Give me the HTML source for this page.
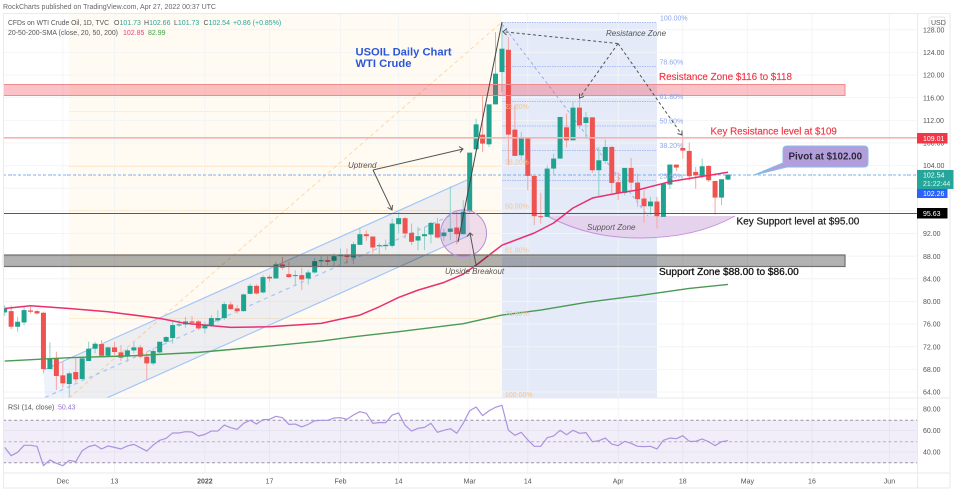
<!DOCTYPE html>
<html lang="en">
<head>
<meta charset="utf-8">
<title>USOIL Daily Chart</title>
<style>
html,body{margin:0;padding:0;background:#fff;width:960px;height:491px;overflow:hidden}
svg{display:block;filter:blur(0.3px)}
text{font-family:"Liberation Sans",sans-serif}
</style>
</head>
<body>
<svg id="chart" xmlns="http://www.w3.org/2000/svg" width="960" height="491" viewBox="0 0 960 491">
  <defs>
    <clipPath id="main-clip"><rect x="3" y="13" width="914" height="385"/></clipPath>
  </defs>
  <rect x="0" y="0" width="960" height="491" fill="#ffffff"/>
  <text x="3" y="9" font-size="7" fill="#666" textLength="213" lengthAdjust="spacingAndGlyphs">RockCharts published on TradingView.com, Apr 27, 2022 00:37 UTC</text>

  <g>
    <rect x="69" y="13" width="433" height="385" fill="#fffbf3"/>
    <rect x="502" y="22.5" width="155" height="375.5" fill="#e4eaf8"/>
  </g>
  <g id="grid"></g>

  <g stroke="#fde3bf" stroke-width="1" stroke-dasharray="1.5 1">
    <line x1="69" x2="502" y1="111.5" y2="111.5"/>
    <line x1="69" x2="502" y1="166.5" y2="166.5"/>
    <line x1="69" x2="502" y1="210.5" y2="210.5"/>
    <line x1="69" x2="502" y1="254.5" y2="254.5"/>
    <line x1="69" x2="502" y1="318.5" y2="318.5"/>
  </g>
  <line x1="69" y1="398" x2="502" y2="22" stroke="#fdd9a8" stroke-width="1" stroke-dasharray="4 3"/>
  <g stroke="#a9bcf0" stroke-width="1" stroke-dasharray="1.5 1">
    <line x1="502" x2="657" y1="22.5" y2="22.5"/>
    <line x1="502" x2="657" y1="66.5" y2="66.5"/>
    <line x1="502" x2="657" y1="101.5" y2="101.5"/>
    <line x1="502" x2="657" y1="126" y2="126"/>
    <line x1="502" x2="657" y1="150.5" y2="150.5"/>
    <line x1="502" x2="657" y1="180.5" y2="180.5"/>
  </g>
  <line x1="502" y1="24" x2="657" y2="228" stroke="#97aeea" stroke-width="1" stroke-dasharray="3 3"/>

  <g clip-path="url(#main-clip)">
    <polygon points="43.5,370 467,180 470,235 46.5,425" fill="#3f6fd8" fill-opacity="0.09"/>
    <line x1="43.5" y1="370" x2="467" y2="180" stroke="#a3c6f7" stroke-width="1.2"/>
    <line x1="46.5" y1="425" x2="470" y2="235" stroke="#a3c6f7" stroke-width="1.2"/>
    <line x1="45" y1="397.5" x2="468.5" y2="207.5" stroke="#a3c6f7" stroke-width="1.2" stroke-dasharray="4 4"/>
  </g>

  <line x1="3" x2="917" y1="175" y2="175" stroke="#7fb3ec" stroke-width="1" stroke-dasharray="3 2"/>
  <line x1="3" x2="917" y1="175" y2="175" stroke="#4db6ac" stroke-width="1" stroke-dasharray="1 7"/>

  <path d="M547,216 C580,233 610,238 640,238 C680,238 710,230 735,216 Z" fill="#e5d3ee"/>
  <path d="M547,216 C580,233 610,238 640,238 C680,238 710,230 735,216" fill="none" stroke="#c792dc" stroke-width="1"/>

  <g id="candles" clip-path="url(#main-clip)"></g>
  <g id="moving-averages"></g>

  <rect x="3.5" y="84.5" width="841.5" height="11" fill="#f23645" fill-opacity="0.3" stroke="#f08a8d" stroke-width="1"/>
  <rect x="3.5" y="255" width="841.5" height="11.5" fill="#000" fill-opacity="0.3" stroke="#6f6f6f" stroke-width="1.2"/>
  <line x1="3" x2="917" y1="137.8" y2="137.8" stroke="#f7b2b4" stroke-width="1.6"/>
  <line x1="3" x2="917" y1="213.5" y2="213.5" stroke="#5a5a5a" stroke-width="1"/>
  <ellipse cx="463.5" cy="233.3" rx="23" ry="23.4" fill="#9c27b0" fill-opacity="0.14" stroke="#b58fd4" stroke-width="1"/>

  <g font-size="7" fill="#f5c58c">
    <text x="505" y="109">23.60%</text>
    <text x="505" y="164.5">38.20%</text>
    <text x="505" y="208.5">50.00%</text>
    <text x="505" y="252.5">61.80%</text>
    <text x="505" y="316">78.60%</text>
    <text x="505" y="397">100.00%</text>
  </g>
  <g font-size="7" fill="#8ea6ea">
    <text x="660" y="20.5">100.00%</text>
    <text x="659.5" y="64.5">78.60%</text>
    <text x="659.5" y="99">61.80%</text>
    <text x="659.5" y="123.5">50.00%</text>
    <text x="659.5" y="148">38.20%</text>
    <text x="659.5" y="178.5">23.60%</text>
  </g>

  <g fill="none" stroke="#555" stroke-width="1">
    <line x1="502" y1="22" x2="458" y2="242" stroke="#444"/>
    <path d="M373,170 L463,149 M459,146.5 L463,149 L460,152.5"/>
    <path d="M373,170 L392,210 M387.5,207.5 L392,210 L392.5,205"/>
    <path d="M476,265 L470,233 M467,236.5 L470,233 L473,235.5"/>
  </g>
  <g fill="none" stroke="#555" stroke-width="1">
    <path stroke-dasharray="3 2.5" d="M618,43.5 L503,31.7"/>
    <path d="M507,28.5 L503,31.7 L506.5,35"/>
    <path stroke-dasharray="3 2.5" d="M618,43.5 L579.5,98"/>
    <path d="M579.5,93.5 L579.5,98 L584,96.5"/>
    <path stroke-dasharray="3 2.5" d="M618,43.5 L682,135"/>
    <path d="M677.5,133.5 L682,135 L682,130.5"/>
  </g>

  <path d="M787,146 H864 Q868,146 868,150 V163 Q868,167 864,167 H787 L754,175 L783,163 V150 Q783,146 787,146 Z" fill="#b39ddb" stroke="#86bde8" stroke-width="1"/>
  <text x="788.5" y="159.5" font-size="9.8" font-weight="bold" fill="#2a2a3a">Pivot at $102.00</text>

  <text x="355.5" y="55.5" font-size="11.2" font-weight="bold" fill="#2c56d6">USOIL Daily Chart</text>
  <text x="355.5" y="67" font-size="11.2" font-weight="bold" fill="#2c56d6">WTI Crude</text>
  <text x="606" y="36" font-size="8" font-style="italic" fill="#555">Resistance Zone</text>
  <text x="348" y="168" font-size="8" font-style="italic" fill="#555">Uptrend</text>
  <text x="587" y="230" font-size="8" font-style="italic" fill="#555">Support Zone</text>
  <text x="445" y="274" font-size="8" font-style="italic" fill="#555">Upside Breakout</text>
  <text x="659" y="80" font-size="9.9" fill="#f23645" stroke="#f23645" stroke-width="0.15">Resistance Zone $116 to $118</text>
  <text x="710.5" y="134.5" font-size="9.8" fill="#f23645" stroke="#f23645" stroke-width="0.15">Key Resistance level at $109</text>
  <text x="736.5" y="224.5" font-size="10" fill="#222" stroke="#222" stroke-width="0.25">Key Support level at $95.00</text>
  <text x="659" y="275" font-size="10.1" fill="#111" stroke="#111" stroke-width="0.3">Support Zone $88.00 to $86.00</text>

  <g font-size="7">
    <text x="8" y="24.8" fill="#555" textLength="101" lengthAdjust="spacingAndGlyphs">CFDs on WTI Crude Oil, 1D, TVC</text>
    <text x="114" y="24.8" fill="#555">O<tspan fill="#26a69a">101.73</tspan></text>
    <text x="144" y="24.8" fill="#555">H<tspan fill="#26a69a">102.66</tspan></text>
    <text x="174" y="24.8" fill="#555">L<tspan fill="#26a69a">101.73</tspan></text>
    <text x="203.5" y="24.8" fill="#555">C<tspan fill="#26a69a">102.54</tspan></text>
    <text x="233" y="24.8" fill="#26a69a">+0.86 (+0.85%)</text>
    <text x="8" y="34.8" fill="#555" textLength="110" lengthAdjust="spacingAndGlyphs">20-50-200-SMA (close, 20, 50, 200)</text>
    <text x="123" y="34.8" fill="#ec407a">102.85</text>
    <text x="148" y="34.8" fill="#43a047">82.99</text>
  </g>

  <g>
    <rect x="3" y="420" width="914" height="43" fill="#7e57c2" fill-opacity="0.1"/>
    <line x1="3" x2="917" y1="420.3" y2="420.3" stroke="#9b96a8" stroke-dasharray="3 2.5"/>
    <line x1="3" x2="917" y1="441.7" y2="441.7" stroke="#b5b1bf" stroke-dasharray="3 2.5"/>
    <line x1="3" x2="917" y1="462.7" y2="462.7" stroke="#9b96a8" stroke-dasharray="3 2.5"/>
    <text x="8" y="409.5" font-size="7" fill="#555">RSI (14, close)</text>
    <text x="58" y="409.5" font-size="7" fill="#9575cd">50.43</text>
  </g>
  <g id="rsi-line"></g>

  <g fill="none" stroke="#e8eaf0" stroke-width="1">
    <rect x="3.5" y="13.5" width="946.5" height="474.5"/>
    <line x1="917.5" x2="917.5" y1="13" y2="488"/>
    <line x1="3" x2="950" y1="398" y2="398"/>
    <line x1="3" x2="950" y1="473" y2="473"/>
  </g>
  <g id="axis-labels"></g>

  <rect x="929" y="17" width="16" height="10" rx="2" fill="#fff" stroke="#e6e6e6"/>
  <text x="931" y="25" font-size="7" fill="#555">USD</text>

  <rect x="917" y="133" width="30.5" height="10.5" fill="#f23645"/>
  <text x="923" y="141" font-size="7" fill="#fff">109.01</text>
  <rect x="917" y="170" width="36.5" height="19" fill="#26a69a"/>
  <text x="923" y="177.5" font-size="7" fill="#fff">102.54</text>
  <text x="923" y="186" font-size="7" fill="#dff3f0">21:22:44</text>
  <rect x="917" y="189" width="30.5" height="9" fill="#2962ff"/>
  <text x="923" y="196" font-size="7" fill="#fff">102.26</text>
  <rect x="917" y="208" width="30.5" height="10.5" fill="#000"/>
  <text x="923" y="216" font-size="7" fill="#fff">95.63</text>
</svg>

<script>
// Candle series, one entry per trading day.
const opens = [78.06,78.29,75.53,76.29,78.41,78.29,78.0,68.06,69.94,66.94,65.41,67.53,66.29,69.47,71.65,72.47,70.41,71.88,71.0,70.24,71.35,71.88,70.24,69.06,71.0,72.88,73.53,75.82,75.94,76.47,76.47,75.24,75.82,76.65,77.06,79.47,78.76,78.29,81.35,82.76,81.59,84.35,84.06,86.53,84.82,84.47,84.65,84.06,85.12,87.1,87.3,87.18,88.0,88.18,87.76,90.0,91.88,91.47,89.76,89.76,89.82,93.65,94.71,92.12,90.76,91.53,91.82,93.76,91.53,92.29,93.06,91.88,95.94,106.88,109.47,107.76,114.82,120.53,124.47,110.35,105.82,108.94,102.18,95.06,94.94,103.47,105.24,110.76,108.47,114.24,111.53,112.53,103.18,104.82,107.29,101.06,99.18,103.59,101.0,98.18,96.82,97.65,94.94,100.65,104.18,107.12,106.59,102.88,102.12,103.94,101.29,98.35,101.53];
const highs = [79.35,79.24,77.29,79.06,79.06,78.47,78.18,72.76,71.12,69.47,67.59,69.94,69.94,72.88,72.88,73.18,72.0,72.88,72.29,71.71,72.88,72.29,71.12,71.71,72.88,73.94,76.53,76.71,77.29,77.41,76.71,76.41,77.59,78.47,79.94,79.94,79.35,81.41,83.18,83.0,84.65,84.65,87.0,87.88,87.0,85.53,85.94,85.53,87.71,88.2,88.0,88.47,89.35,89.35,90.53,93.06,92.59,91.47,90.35,90.94,94.65,95.82,94.94,93.76,93.18,93.18,94.06,94.76,92.88,100.35,95.53,97.88,106.3,112.29,116.29,114.82,127.59,129.35,126.71,114.65,109.94,108.94,102.18,99.18,104.06,106.12,112.59,113.18,115.24,116.41,113.47,112.53,107.29,108.59,107.47,102.88,103.59,105.35,102.59,99.65,98.47,98.47,100.82,104.18,104.18,109.35,108.06,103.76,105.24,104.06,101.29,101.59,102.41];
const lows = [77.47,75.12,74.65,75.82,77.88,77.71,67.29,68.06,64.35,64.76,63.0,65.71,66.12,69.47,70.82,70.24,70.24,70.53,69.47,69.35,70.82,69.94,66.12,68.76,70.82,72.41,72.53,75.53,75.35,75.82,74.94,74.35,75.53,76.29,76.71,78.47,77.88,78.18,81.24,81.24,81.41,83.47,84.06,85.53,84.18,82.76,82.0,83.0,84.94,86.0,86.4,86.12,86.41,86.71,86.59,90.0,90.71,88.47,88.35,89.06,89.53,92.0,91.12,89.94,89.06,89.06,90.24,91.12,90.71,90.82,90.12,91.88,95.53,106.41,106.41,107.29,114.82,117.0,104.06,105.71,105.06,99.65,93.47,93.76,94.94,102.47,105.24,107.18,108.47,110.53,108.76,102.71,98.47,104.35,99.18,97.88,98.76,99.65,96.71,93.88,95.24,92.88,94.94,99.88,103.0,105.24,101.41,99.88,101.71,101.12,95.35,97.0,101.41];
const closes = [78.76,75.53,76.41,78.47,78.18,77.88,68.06,69.94,66.82,65.53,67.29,66.24,69.94,71.65,72.53,70.41,71.88,71.06,70.06,71.35,71.88,70.24,69.06,71.24,72.88,73.71,75.82,75.94,76.47,76.24,75.24,75.94,77.06,77.06,79.53,78.65,78.29,81.24,82.76,81.41,84.29,84.06,86.53,85.94,84.29,84.65,83.88,85.12,87.12,87.3,87.0,88.0,88.18,87.88,90.12,91.88,91.53,89.53,89.94,90.0,93.76,94.71,92.0,90.53,91.53,91.88,93.88,91.29,92.18,92.88,91.88,95.82,106.29,111.29,107.88,114.82,120.24,124.65,109.47,105.71,108.94,102.18,95.06,94.88,103.47,105.24,112.59,108.47,114.24,111.12,112.53,103.18,104.94,107.29,100.94,99.18,103.59,101.0,98.06,96.82,97.65,95.06,100.82,104.18,103.65,106.65,102.12,102.29,103.88,101.41,98.35,101.59,102.41];

// Moving averages: sampled at the day indices listed beside them.
const sma50Days = [0,4,10,16,24,28,35,41,49,52,55,58,61,64,68,71,73,75,77,82,85,88,91,95,98,103,112];
const sma50Values = [78.76,79.24,78.76,78.18,77.0,76.12,75.41,75.53,76.12,76.88,77.59,79.06,80.71,82.0,83.35,84.82,86.41,88.18,89.94,92.09,93.86,96.51,98.27,99.16,99.69,101.16,102.82];
const sma200Days = [0,10,20,30,41,49,54,61,71,77,83,90,98,106,112];
const sma200Values = [69.47,70.06,70.41,71.0,72.12,73.0,73.76,74.65,76.06,77.59,78.47,79.82,81.0,82.29,83.0];

// RSI: one value per trading day.
const rsiValues = [44.3,36.6,39.7,46.2,46.2,45.3,27.3,32.6,29.5,27.3,32.2,31.0,41.2,45.0,46.5,42.8,45.6,44.3,42.8,45.6,47.1,44.0,40.9,46.5,50.9,52.7,57.7,57.7,58.9,58.6,54.9,56.4,59.5,59.5,65.1,62.6,61.1,66.7,69.5,66.0,70.1,70.4,73.2,71.9,65.7,66.0,63.3,65.7,69.1,69.5,69.5,71.6,71.9,70.4,74.4,77.5,76.0,66.7,67.3,67.3,74.4,76.3,64.8,59.5,62.0,62.9,66.7,58.3,60.2,61.7,57.4,66.7,78.4,81.9,73.8,78.4,81.6,83.4,60.2,55.5,58.3,51.2,45.3,45.3,53.3,54.9,60.2,56.1,60.2,57.4,58.0,49.6,50.5,53.0,47.4,45.9,49.9,48.1,45.3,45.0,45.3,42.8,50.9,53.0,52.4,55.2,49.9,49.9,52.1,49.6,45.9,49.6,50.5];

// Axis labels.
const priceTicks = [128,124,120,116,112,108,104,92,88,84,80,76,72,68,64];
const gridPrices = [128,124,120,116,112,108,104,100,96,92,88,84,80,76,72,68,64];
const rsiTicks = [80,60,40];
const dateLabels = ["Dec","13","2022","17","Feb","14","Mar","14","Apr","18","May","16","Jun"];
const dateDays = [9,17,31,41,52,61,72,81,95,105,115,125,137];

// Axis functions.
const xScale = i => 4.7 + 6.458 * i;
const yScale = p => 392 - (p - 64) * 5.66;
const rsiScale = v => 409 + (80 - v) * 1.075;

const NS = "http://www.w3.org/2000/svg";
function make(tag, parent, attrs) {
  const el = document.createElementNS(NS, tag);
  for (const k in attrs) el.setAttribute(k, attrs[k]);
  parent.appendChild(el);
  return el;
}

const gridGroup = document.getElementById("grid");
const axisGroup = document.getElementById("axis-labels");
const candleGroup = document.getElementById("candles");
const maGroup = document.getElementById("moving-averages");
const rsiGroup = document.getElementById("rsi-line");

gridPrices.forEach(p => {
  const ln = make("line", gridGroup, {x1: 3, x2: 917, y1: yScale(p), y2: yScale(p), stroke: "#f3f4f6", "stroke-width": 1});
  
  
});
rsiTicks.forEach(v => {
  const ln = make("line", gridGroup, {x1: 3, x2: 917, y1: rsiScale(v), y2: rsiScale(v), stroke: "#f3f4f6", "stroke-width": 1});
  
  
});
dateDays.forEach(d => {
  const ln = make("line", gridGroup, {x1: xScale(d), x2: xScale(d), y1: 13, y2: 473, stroke: "#f3f4f6", "stroke-width": 1});
  
  
});

closes.forEach((c, i) => {
  const o = opens[i];
  const up = c >= o;
  const wick = make("line", candleGroup, {
    x1: xScale(i), x2: xScale(i), y1: yScale(highs[i]), y2: yScale(lows[i]),
    stroke: up ? "#8fd2c7" : "#f6a5a2", "stroke-width": 1
  });
  
  
  const top = yScale(Math.max(o, c));
  const h = Math.max(1, Math.abs(yScale(o) - yScale(c)));
  const body = make("rect", candleGroup, {
    x: xScale(i) - 2.5, y: top, width: 5, height: h,
    fill: up ? "#1fa28f" : "#ef5350"
  });
  
  
});

const sma50Path = sma50Days.map((d, k) => xScale(d) + "," + yScale(sma50Values[k])).join(" ");
const sma50Line = make("polyline", maGroup, {points: sma50Path, fill: "none", stroke: "#e8306f", "stroke-width": 1.5, "stroke-linejoin": "round"});



const sma200Path = sma200Days.map((d, k) => xScale(d) + "," + yScale(sma200Values[k])).join(" ");
const sma200Line = make("polyline", maGroup, {points: sma200Path, fill: "none", stroke: "#4a9a55", "stroke-width": 1.4, "stroke-linejoin": "round"});



const rsiPath = rsiValues.map((v, i) => xScale(i) + "," + rsiScale(v)).join(" ");
const rsiLine = make("polyline", rsiGroup, {points: rsiPath, fill: "none", stroke: "#ab93de", "stroke-width": 1.2, "stroke-linejoin": "round"});



function addLabel(parent, x, y, str, anchor) {
  const t = make("text", parent, {x: x, y: y, "font-size": 7, fill: "#555", "text-anchor": anchor});
  t.textContent = str;
  return t;
}
priceTicks.forEach(p => {
  const t = addLabel(axisGroup, 923, yScale(p) + 2.6, p.toFixed(2), "start");
  
  
});
rsiTicks.forEach(v => {
  const t = addLabel(axisGroup, 923, rsiScale(v) + 2.6, v.toFixed(2), "start");
  
  
});
dateLabels.forEach((s, k) => {
  const t = addLabel(axisGroup, xScale(dateDays[k]), 483.5, s, "middle");
  
  
  if (s === "2022") t.setAttribute("font-weight", "bold");
});
</script>
</body>
</html>
